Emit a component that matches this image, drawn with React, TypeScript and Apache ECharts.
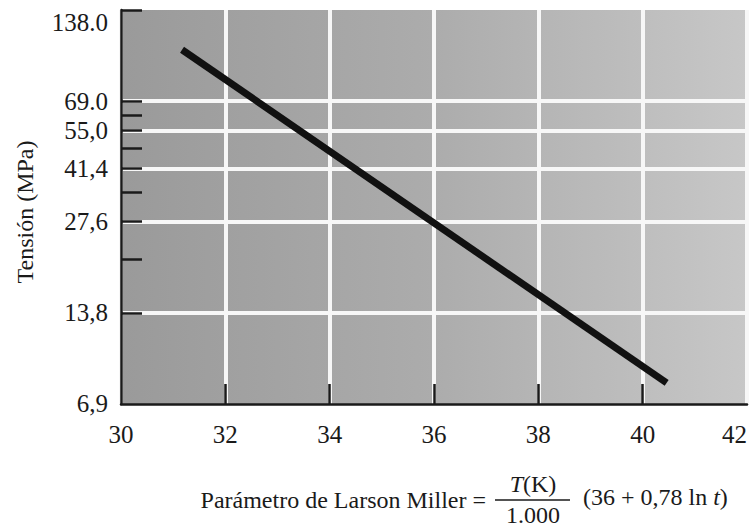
import React, { useEffect, useRef } from "react";
import * as echarts from "echarts";

// Data
const lineX = [31.17, 40.46];
const lineY = [102, 8.1];

const xMin = 30;
const xMax = 42;
const xInterval = 2;
const xInnerTicks = [32, 34, 36, 38, 40];

const yMin = 6.9;
const yMax = 138;
const yGridValues = [13.8, 27.6, 41.4, 55, 69];
const yMinorTicks = [13.8, 20.7, 27.6, 34.5, 41.4, 48.3, 55.2, 62.1, 69, 137.99];
const yLabelValues = [6.9001, 13.8, 27.6, 41.4, 55, 69, 137.99];
const yLabelTexts = ["6,9", "13,8", "27,6", "41,4", "55,0", "69.0", "138.0"];

const FONT = '"Liberation Serif", "Times New Roman", serif';
const INK = "#1a1a1a";

function yLabel(v: number): string {
  let best = 0;
  let bestD = Infinity;
  yLabelValues.forEach((lv, i) => {
    const d = Math.abs(Math.log(v / lv));
    if (d < bestD) {
      bestD = d;
      best = i;
    }
  });
  return yLabelTexts[best];
}

export default function App() {
  const ref = useRef<HTMLDivElement>(null);

  useEffect(() => {
    if (!ref.current) return;
    const chart = echarts.init(ref.current, undefined, { renderer: "svg" });
    const grid = { left: 121, right: 9, top: 10, bottom: 125 };
    chart.setOption({
      animation: false,
      backgroundColor: "#ffffff",
      grid: {
        ...grid,
        show: true,
        borderWidth: 0,
        outerBoundsMode: "none",
        backgroundColor: new echarts.graphic.LinearGradient(0, 0, 1, 0, [
          { offset: 0, color: "#9a9a9a" },
          { offset: 0.5, color: "#acacac" },
          { offset: 1, color: "#c7c7c7" },
        ]),
      },
      xAxis: [
        {
          type: "value",
          position: "bottom",
          min: xMin,
          max: xMax,
          interval: xInterval,
          axisLine: { show: false },
          axisTick: { show: false },
          axisLabel: {
            margin: 18,
            fontFamily: FONT,
            fontSize: 25,
            color: INK,
            alignMaxLabel: "right",
          },
          splitLine: { show: true, lineStyle: { color: "#f7f7f7", width: 4 } },
        },
        {
          type: "value",
          position: "bottom",
          min: xMin,
          max: xMax,
          interval: xInterval,
          z: 10,
          axisLine: { show: true, lineStyle: { color: INK, width: 2.5 } },
          axisTick: {
            show: true,
            inside: true,
            length: 20,
            customValues: xInnerTicks,
            lineStyle: { color: INK, width: 2.5 },
          },
          axisLabel: { show: false },
          splitLine: { show: false },
        },
      ],
      yAxis: [
        {
          type: "log",
          position: "left",
          min: yMin,
          max: yMax,
          axisLine: { show: false },
          axisTick: { show: false, customValues: yGridValues },
          axisLabel: { show: false },
          splitLine: { show: true, lineStyle: { color: "#f7f7f7", width: 4 } },
        },
        {
          type: "log",
          position: "left",
          min: yMin,
          max: yMax,
          z: 10,
          axisLine: { show: true, lineStyle: { color: INK, width: 2.5 } },
          axisTick: {
            show: true,
            inside: true,
            length: 21,
            customValues: yMinorTicks,
            lineStyle: { color: INK, width: 2.5 },
          },
          axisLabel: {
            show: true,
            customValues: yLabelValues,
            margin: 13,
            fontFamily: FONT,
            fontSize: 25,
            color: INK,
            verticalAlignMaxLabel: "top",
            formatter: (v: number) => yLabel(v),
          },
          splitLine: { show: false },
        },
      ],
      series: [
        {
          type: "line",
          xAxisIndex: 0,
          yAxisIndex: 0,
          data: lineX.map((x, i) => [x, lineY[i]]),
          symbol: "none",
          lineStyle: { color: "#111111", width: 7, cap: "butt" },
          z: 5,
        },
      ],
      graphic: [
        {
          type: "text",
          x: 25,
          y: 212,
          rotation: Math.PI / 2,
          style: {
            text: "Tensión (MPa)",
            font: `24px ${FONT}`,
            fill: INK,
            align: "center",
            verticalAlign: "middle",
          },
        },
        {
          type: "text",
          x: 486,
          y: 500,
          style: {
            text: "Parámetro de Larson Miller =",
            font: `24px ${FONT}`,
            fill: INK,
            align: "right",
            verticalAlign: "middle",
          },
        },
        {
          type: "text",
          x: 533,
          y: 484,
          style: {
            text: "{i|T}(K)",
            font: `24px ${FONT}`,
            fill: INK,
            align: "center",
            verticalAlign: "middle",
            rich: {
              i: { fontStyle: "italic", fontFamily: FONT, fontSize: 24, fill: INK },
            },
          },
        },
        {
          type: "line",
          shape: { x1: 495, y1: 500, x2: 570, y2: 500 },
          style: { stroke: INK, lineWidth: 1.5 },
        },
        {
          type: "text",
          x: 533,
          y: 515,
          style: {
            text: "1.000",
            font: `24px ${FONT}`,
            fill: INK,
            align: "center",
            verticalAlign: "middle",
          },
        },
        {
          type: "text",
          x: 583,
          y: 497,
          style: {
            text: "(36 + 0,78 ln {i|t})",
            font: `24px ${FONT}`,
            fill: INK,
            align: "left",
            verticalAlign: "middle",
            rich: {
              i: { fontStyle: "italic", fontFamily: FONT, fontSize: 24, fill: INK },
            },
          },
        },
      ],
    });
    return () => chart.dispose();
  }, []);

  return <div ref={ref} style={{ width: 756, height: 529, position: "absolute", left: 0, top: 0 }} />;
}
